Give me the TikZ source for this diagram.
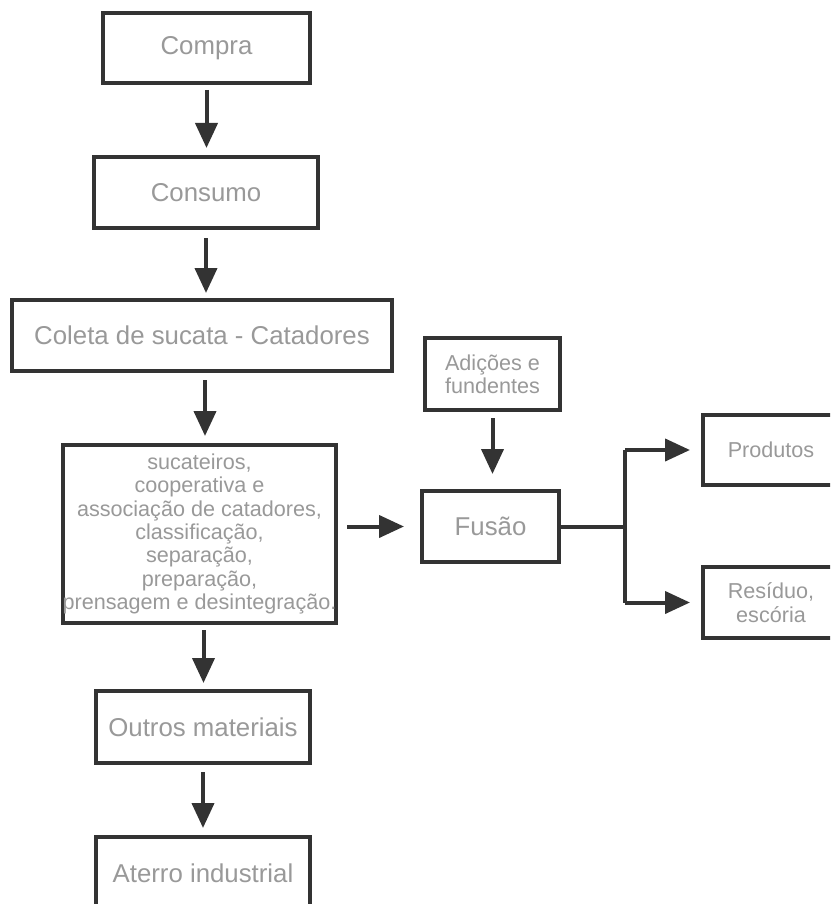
\documentclass[tikz,border=0pt]{standalone}
\usepackage{fontspec}
\setmainfont{Liberation Sans}
\usetikzlibrary{arrows.meta,calc}
\definecolor{linec}{HTML}{333333}
\definecolor{textc}{HTML}{999999}
\begin{document}
\begin{tikzpicture}[x=1pt,y=-1pt,
  box/.style={draw=linec,line width=4pt,fill=white,text=textc,inner sep=0pt,align=center},
  big/.style={box,font=\fontsize{25.8}{28}\selectfont},
  small/.style={box,font=\fontsize{21.6}{23.4}\selectfont},
  arr/.style={draw=linec,line width=4pt,-{Triangle[length=25pt,width=22pt]}},
  conn/.style={draw=linec,line width=4pt}]
\useasboundingbox (0,0) rectangle (830,904);
\clip (0,0) rectangle (830,904);
\node[big,minimum width=207pt,minimum height=70pt] (compra) at (206.5,48) {Compra};
\node[big,minimum width=224pt,minimum height=71pt] (consumo) at (206,192.5) {Consumo};
\node[big,minimum width=380pt,minimum height=71pt] (coleta) at (202,335.5) {Coleta de sucata - Catadores};
\node[small,minimum width=273pt,minimum height=178pt] (suc) at (199.5,534) {sucateiros,\\cooperativa e\\associação de catadores,\\classificação,\\separação,\\preparação,\\prensagem e desintegração.};
\node[big,minimum width=214pt,minimum height=72pt] (outros) at (203,727) {Outros materiais};
\node[big,minimum width=214pt,minimum height=72pt] (aterro) at (203,873) {Aterro industrial};
\node[small,minimum width=135pt,minimum height=72pt] (adic) at (492.5,374) {Adições e\\fundentes};
\node[big,minimum width=137pt,minimum height=71pt] (fusao) at (490.5,526.5) {Fusão};
\node[small,minimum width=136pt,minimum height=70pt] (prod) at (771,450) {Produtos};
\node[small,minimum width=136pt,minimum height=71pt] (resid) at (771,602.5) {Resíduo,\\escória};
\coordinate (br) at (625,526.5);
\draw[arr,shorten <=5pt,shorten >=7pt] (compra.south) -- (compra.south |- consumo.north);
\draw[arr,shorten <=8pt,shorten >=5pt] (consumo.south) -- (consumo.south |- coleta.north);
\draw[arr,shorten <=7pt,shorten >=7pt] ($(coleta.south)+(3,0)$) -- ($(coleta.south |- suc.north)+(3,0)$);
\draw[arr,shorten <=5pt,shorten >=6pt] ($(suc.south)+(4,0)$) -- ($(suc.south |- outros.north)+(4,0)$);
\draw[arr,shorten <=7pt,shorten >=7pt] (outros.south) -- (outros.south |- aterro.north);
\draw[arr,shorten <=6pt,shorten >=15pt] (adic.south) -- (adic.south |- fusao.north);
\draw[arr,shorten <=9pt,shorten >=16pt] (suc.east |- fusao.west) -- (fusao.west);
\draw[conn] (fusao.east) -- (br);
\draw[conn] (br |- prod.west) -- (br |- resid.west);
\draw[arr,shorten >=11pt] (br |- prod.west) -- (prod.west);
\draw[arr,shorten >=11pt] (br |- resid.west) -- (resid.west);
\end{tikzpicture}
\end{document}
